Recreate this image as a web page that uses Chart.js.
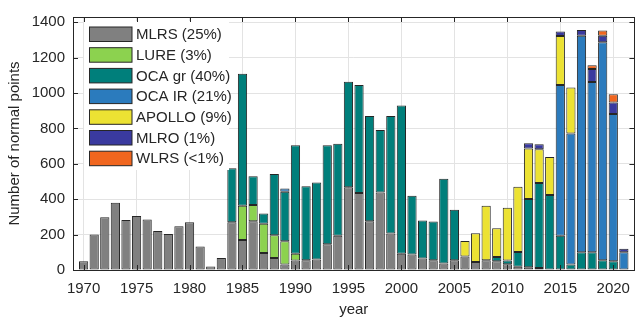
<!DOCTYPE html>
<html>
<head>
<meta charset="utf-8">
<script src="https://cdn.jsdelivr.net/npm/chart.js@4.4.1/dist/chart.umd.min.js"></script>
<style>
  html, body { margin: 0; padding: 0; background: #fff; overflow: hidden; }
</style>
</head>
<body>
<canvas id="barChart" width="640" height="322"></canvas>
<script>
// years on the x axis
const years = [];
for (let y = 1970; y <= 2021; y++) years.push(y);

// tick labels
const xTicks = [1970, 1975, 1980, 1985, 1990, 1995, 2000, 2005, 2010, 2015, 2020];
const yTicks = [0, 200, 400, 600, 800, 1000, 1200, 1400];

// normal points per station, 1970 .. 2021
const mlrs = [50, 200, 298, 380, 283, 305, 285, 220, 203, 247,
              270, 133, 20, 68, 270, 170, 276, 96, 68, 31,
              54, 55, 59, 145, 193, 468, 435, 276, 438, 206,
              92, 88, 65, 55, 37, 55, 77, 45, 55, 50,
              33, 19, 15, 11, 0, 0, 0, 0, 0, 0,
              0, 0];
const lure = [0, 0, 0, 0, 0, 0, 0, 0, 0, 0,
              0, 0, 0, 0, 0, 193, 92, 165, 129, 131,
              38, 0, 0, 0, 0, 0, 0, 0, 0, 0,
              0, 0, 0, 0, 0, 0, 0, 0, 0, 0,
              0, 0, 0, 0, 0, 0, 0, 0, 0, 0,
              0, 0];
const ocaGr = [0, 0, 0, 0, 0, 0, 0, 0, 0, 0,
               0, 0, 0, 0, 305, 746, 162, 58, 346, 280,
               613, 418, 436, 560, 521, 596, 611, 595, 354, 665,
               838, 332, 215, 219, 479, 285, 0, 0, 0, 24,
               20, 83, 387, 481, 424, 193, 31, 101, 101, 55,
               50, 0];
const ocaIr = [0, 0, 0, 0, 0, 0, 0, 0, 0, 0,
               0, 0, 0, 0, 0, 0, 0, 0, 0, 18,
               0, 0, 0, 0, 0, 0, 0, 0, 0, 0,
               0, 0, 0, 0, 0, 0, 0, 0, 0, 0,
               0, 0, 0, 0, 0, 853, 741, 1223, 962, 1232,
               832, 101];
const apollo = [0, 0, 0, 0, 0, 0, 0, 0, 0, 0,
                0, 0, 0, 0, 0, 0, 0, 0, 0, 0,
                0, 0, 0, 0, 0, 0, 0, 0, 0, 0,
                0, 0, 0, 0, 0, 0, 87, 163, 308, 162,
                299, 369, 285, 191, 215, 276, 259, 0, 0, 0,
                0, 0];
const mlro = [0, 0, 0, 0, 0, 0, 0, 0, 0, 0,
              0, 0, 0, 0, 0, 0, 0, 0, 0, 0,
              0, 0, 0, 0, 0, 0, 0, 0, 0, 0,
              0, 0, 0, 0, 0, 0, 0, 0, 0, 0,
              0, 0, 29, 28, 0, 26, 0, 33, 73, 37,
              65, 19];
const wlrs = [0, 0, 0, 0, 0, 0, 0, 0, 0, 0,
              0, 0, 0, 0, 0, 0, 0, 0, 0, 0,
              0, 0, 0, 0, 0, 0, 0, 0, 0, 0,
              0, 0, 0, 0, 0, 0, 0, 0, 0, 0,
              0, 0, 0, 0, 0, 0, 0, 0, 21, 30,
              47, 0];

const seriesLabels = ['MLRS (25%)', 'LURE (3%)', 'OCA gr (40%)', 'OCA IR (21%)',
                      'APOLLO (9%)', 'MLRO (1%)', 'WLRS (<1%)'];
const seriesColors = ['#808080', '#8cd24f', '#007f7b', '#2b7bbd',
                      '#ece233', '#3a3a9f', '#f0661f'];
const seriesValues = [mlrs, lure, ocaGr, ocaIr, apollo, mlro, wlrs];

const textColor = '#262626';
const font15 = { family: "'Liberation Sans', Arial, sans-serif", size: 15 };

// turn a value array into {x, y} points, skipping empty years
function toPoints(values) {
  return years.map((yr, i) => ({ x: yr, y: values[i] ? values[i] : null }));
}

const datasets = seriesValues.map((vals, i) => ({
  label: seriesLabels[i],
  data: toPoints(vals),
  backgroundColor: seriesColors[i],
  borderColor: '#262626',
  borderWidth: 1,
  borderSkipped: false,
  barPercentage: 0.87,
  categoryPercentage: 1
}));

// MATLAB-like box: frame, inward ticks and a legend with white background
const matlabBox = {
  id: 'matlabBox',
  afterDatasetsDraw(chart) {
    const ctx = chart.ctx;
    const a = chart.chartArea;
    const xs = chart.scales.x, ys = chart.scales.y;
    ctx.save();

    // legend
    ctx.fillStyle = '#fff';
    ctx.fillRect(84, 21, 145, 149);
    ctx.font = "15px 'Liberation Sans', Arial, sans-serif";
    ctx.textBaseline = 'middle';
    ctx.textAlign = 'left';
    chart.data.datasets.forEach((ds, i) => {
      const top = 27 + i * 20.7;
      ctx.fillStyle = ds.backgroundColor;
      ctx.fillRect(89.5, top, 42.5, 14.5);
      ctx.strokeStyle = '#262626';
      ctx.lineWidth = 1;
      ctx.strokeRect(89.5, top, 42.5, 14.5);
      ctx.fillStyle = textColor;
      ctx.fillText(ds.label, 136, top + 8);
    });

    // inward tick marks
    ctx.strokeStyle = textColor;
    ctx.lineWidth = 1;
    ctx.beginPath();
    xs.ticks.forEach(t => {
      const px = Math.round(xs.getPixelForValue(t.value)) + 0.5;
      ctx.moveTo(px, a.bottom); ctx.lineTo(px, a.bottom - 5);
      ctx.moveTo(px, a.top); ctx.lineTo(px, a.top + 5);
    });
    ys.ticks.forEach(t => {
      const py = Math.round(ys.getPixelForValue(t.value)) + 0.5;
      ctx.moveTo(a.left, py); ctx.lineTo(a.left + 5, py);
      ctx.moveTo(a.right, py); ctx.lineTo(a.right - 5, py);
    });
    ctx.stroke();

    // frame
    ctx.strokeRect(Math.round(a.left) + 0.5, Math.round(a.top) + 0.5,
                   Math.round(a.right - a.left), Math.round(a.bottom - a.top));
    ctx.restore();
  }
};

new Chart(document.getElementById('barChart'), {
  type: 'bar',
  data: { datasets: datasets },
  options: {
    responsive: false,
    animation: false,
    layout: { padding: { top: 11, right: 1, left: 0, bottom: 0 } },
    plugins: {
      legend: { display: false },
      tooltip: { enabled: false }
    },
    scales: {
      x: {
        type: 'linear',
        stacked: true,
        offset: false,
        min: 1969,
        max: 2022,
        afterFit(scale) { scale.height = 52; },
        afterBuildTicks(scale) { scale.ticks = xTicks.map(v => ({ value: v })); },
        ticks: {
          autoSkip: false,
          maxRotation: 0,
          padding: 10,
          color: textColor,
          font: font15,
          callback: v => String(v)
        },
        grid: { color: '#e3e3e3', drawTicks: false, offset: false },
        border: { display: false },
        title: {
          display: true,
          text: 'year',
          color: textColor,
          font: font15,
          padding: { top: 0, bottom: 3 }
        }
      },
      y: {
        stacked: true,
        min: 0,
        max: 1430,
        afterFit(scale) { scale.width = 73; },
        afterBuildTicks(scale) { scale.ticks = yTicks.map(v => ({ value: v })); },
        ticks: {
          autoSkip: false,
          padding: 8,
          color: textColor,
          font: font15,
          callback: v => String(v)
        },
        grid: { color: '#e3e3e3', drawTicks: false },
        border: { display: false },
        title: {
          display: true,
          text: 'Number of normal points',
          color: textColor,
          font: font15,
          padding: { top: 6, bottom: 0 }
        }
      }
    }
  },
  plugins: [matlabBox]
});
</script>
</body>
</html>
